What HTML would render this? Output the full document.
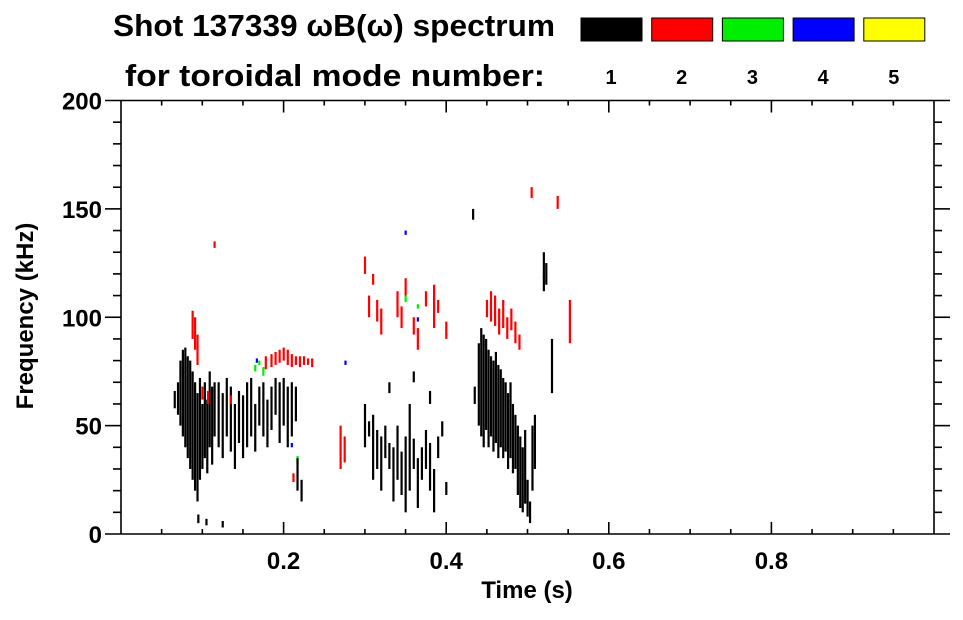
<!DOCTYPE html>
<html><head><meta charset="utf-8">
<style>
body{margin:0;background:#fff;font-family:"Liberation Sans",sans-serif;}
svg text{font-family:"Liberation Sans",sans-serif;font-weight:bold;fill:#000;}
</style></head><body>
<svg id="chart" width="963" height="615" xmlns="http://www.w3.org/2000/svg">
<rect width="963" height="615" fill="#fff"/>
<text x="113" y="36" font-size="31" textLength="442" lengthAdjust="spacingAndGlyphs">Shot 137339 ωB(ω) spectrum</text>
<text x="125" y="86" font-size="31" textLength="420" lengthAdjust="spacingAndGlyphs">for toroidal mode number:</text>
<g id="legend"></g>
<g id="marks"></g>
<g id="axes"></g>
<text x="527" y="598" font-size="24" text-anchor="middle">Time (s)</text>
<text transform="translate(33,316) rotate(-90)" font-size="24" text-anchor="middle">Frequency (kHz)</text>
</svg>
<script>
const modeLabels=["1","2","3","4","5"];
const modeColors=["#000000","#ff0000","#00ee00","#0000ff","#ffff00"];
const xTicks=[0.2,0.4,0.6,0.8];
const yTicks=[0,50,100,150,200];
// streaks: time (s), low freq (kHz), high freq (kHz), mode index
const times=[.066,.070,.073,.076,.079,.082,.085,.088,.091,.094,.097,.100,.103,.106,.109,.112,.115,
.120,.125,.130,.135,.140,.145,.150,.155,.160,.165,.170,.175,.180,.185,.190,.195,.200,.205,.210,.215,
.095,.105,.125,
.088,.091,.094,.100,.107,.115,.135,.178,.185,.19,.195,.2,.205,.21,.215,.22,.225,.23,.235,.212,.27,.275,
.165,.17,.175,.217,.35,.365,
.167,.21,.276,.35,.365,.52,
.217,.222,
.3,.305,.31,.315,.32,.325,.33,.335,.34,.345,.35,.355,.36,.365,.37,.375,.38,.385,.39,.395,.4,.33,.36,.38,
.305,.31,.315,.32,.34,.345,.35,.36,.365,.375,.385,.39,.4,.3,
.435,.44,.443,.446,.449,.452,.455,.458,.461,.464,.467,.47,.473,.476,.479,.482,.485,.488,.491,.494,.497,.5,.503,.506,.509,.433,
.52,.523,.53,
.45,.455,.46,.465,.47,.475,.48,.485,.49,.505,.537,.552];
const fLow=[58,55,50,45,40,35,30,25,20,15,25,30,35,28,40,32,45,
40,35,45,38,30,42,35,40,45,38,50,45,40,48,55,42,50,40,45,52,
5,4,3,
90,85,78,62,60,132,60,76,77,78,79,80,78,77,78,77,78,78,77,24,30,33,
75,78,73,32,107,104,
79,40,78,138,98,118,
20,15,
40,45,25,30,20,35,30,15,25,18,10,20,30,12,25,30,20,10,35,45,18,65,70,60,
100,115,98,92,100,95,110,92,85,105,95,102,90,120,
60,50,45,40,48,40,45,38,42,35,40,35,38,30,35,28,30,18,12,10,14,8,5,20,30,145,
112,115,65,
100,98,96,92,95,90,94,88,85,155,150,88];
const fHigh=[66,70,80,85,86,82,80,75,70,65,72,60,70,62,75,68,70,
70,65,72,68,60,66,64,70,72,60,68,70,62,68,72,70,72,68,70,68,
9,7,6,
103,100,92,68,66,135,64,82,83,84,85,86,85,83,82,82,82,81,81,28,50,45,
78,80,77,36,110,106,
81,42,80,140,100,119,
35,25,
60,52,55,48,45,50,42,40,50,38,45,60,44,35,40,48,42,30,45,52,24,70,75,66,
110,120,108,104,112,105,118,100,95,112,115,108,98,128,
68,88,95,92,90,85,82,80,84,78,76,72,70,65,70,60,55,50,45,40,48,25,15,50,55,150,
130,125,90,
108,112,110,104,108,100,104,98,92,160,156,108];
const modes=[0,0,0,0,0,0,0,0,0,0,0,0,0,0,0,0,0,
0,0,0,0,0,0,0,0,0,0,0,0,0,0,0,0,0,0,0,0,
0,0,0,
1,1,1,1,1,1,1,1,1,1,1,1,1,1,1,1,1,1,1,1,1,1,
2,2,2,2,2,2,
3,3,3,3,3,3,
0,0,
0,0,0,0,0,0,0,0,0,0,0,0,0,0,0,0,0,0,0,0,0,0,0,0,
1,1,1,1,1,1,1,1,1,1,1,1,1,1,
0,0,0,0,0,0,0,0,0,0,0,0,0,0,0,0,0,0,0,0,0,0,0,0,0,0,
0,0,0,
1,1,1,1,1,1,1,1,1,1,1,1];

const NS="http://www.w3.org/2000/svg";
const X0=121,X1=934,Y0=534,Y1=100.5;
const xs=t=>X0+(X1-X0)*t/1.0;
const ys=f=>Y0-(Y0-Y1)*f/200;
function mk(tag,attrs,parent){const e=document.createElementNS(NS,tag);for(const k in attrs)e.setAttribute(k,attrs[k]);parent.appendChild(e);return e;}

const leg=document.getElementById('legend');
modeLabels.forEach((m,i)=>{
  const x=581+i*70.7;
  const r=mk('rect',{x:x,y:18,width:61,height:23,fill:modeColors[i],stroke:'#000','stroke-width':1},leg);
  
  
  const t=mk('text',{x:x+30,y:84,'font-size':20,'text-anchor':'middle'},leg);
  t.textContent=m;
  
  
});

const mg=document.getElementById('marks');
times.forEach((t,i)=>{
  const y1=ys(fHigh[i]),y2=ys(fLow[i]);
  const r=mk('rect',{x:xs(t)-1,y:y1,width:2.2,height:Math.max(1.5,y2-y1),fill:modeColors[modes[i]]},mg);
  
  
});

const ax=document.getElementById('axes');
const L={stroke:'#000','stroke-width':1.6,fill:'none'};
mk('line',Object.assign({x1:105,y1:Y1,x2:950,y2:Y1},L),ax);
mk('line',Object.assign({x1:105,y1:Y0,x2:950,y2:Y0},L),ax);
mk('line',Object.assign({x1:X0,y1:Y1,x2:X0,y2:Y0},L),ax);
mk('line',Object.assign({x1:X1,y1:Y1,x2:X1,y2:Y0},L),ax);
for(let k=1;k<20;k++){const t=k*0.05;const x=xs(t);const maj=Math.abs(t*5-Math.round(t*5))<1e-6;const h=maj?12:5;
  mk('line',Object.assign({x1:x,y1:Y0,x2:x,y2:Y0-h},L),ax);
  mk('line',Object.assign({x1:x,y1:Y1,x2:x,y2:Y1+h},L),ax);}
for(let f=10;f<200;f+=10){const y=ys(f);const maj=f%50==0;const h=maj?16:8;
  mk('line',Object.assign({x1:X0,y1:y,x2:X0-h,y2:y},L),ax);
  mk('line',Object.assign({x1:X1,y1:y,x2:X1+h,y2:y},L),ax);}
xTicks.forEach(v=>{const t=mk('text',{x:xs(v),y:569,'font-size':24,'text-anchor':'middle'},ax);t.textContent=v.toFixed(1);
  
  });
yTicks.forEach(v=>{const t=mk('text',{x:102,y:ys(v)+9,'font-size':24,'text-anchor':'end'},ax);t.textContent=v;
  
  });
</script>
</body></html>
